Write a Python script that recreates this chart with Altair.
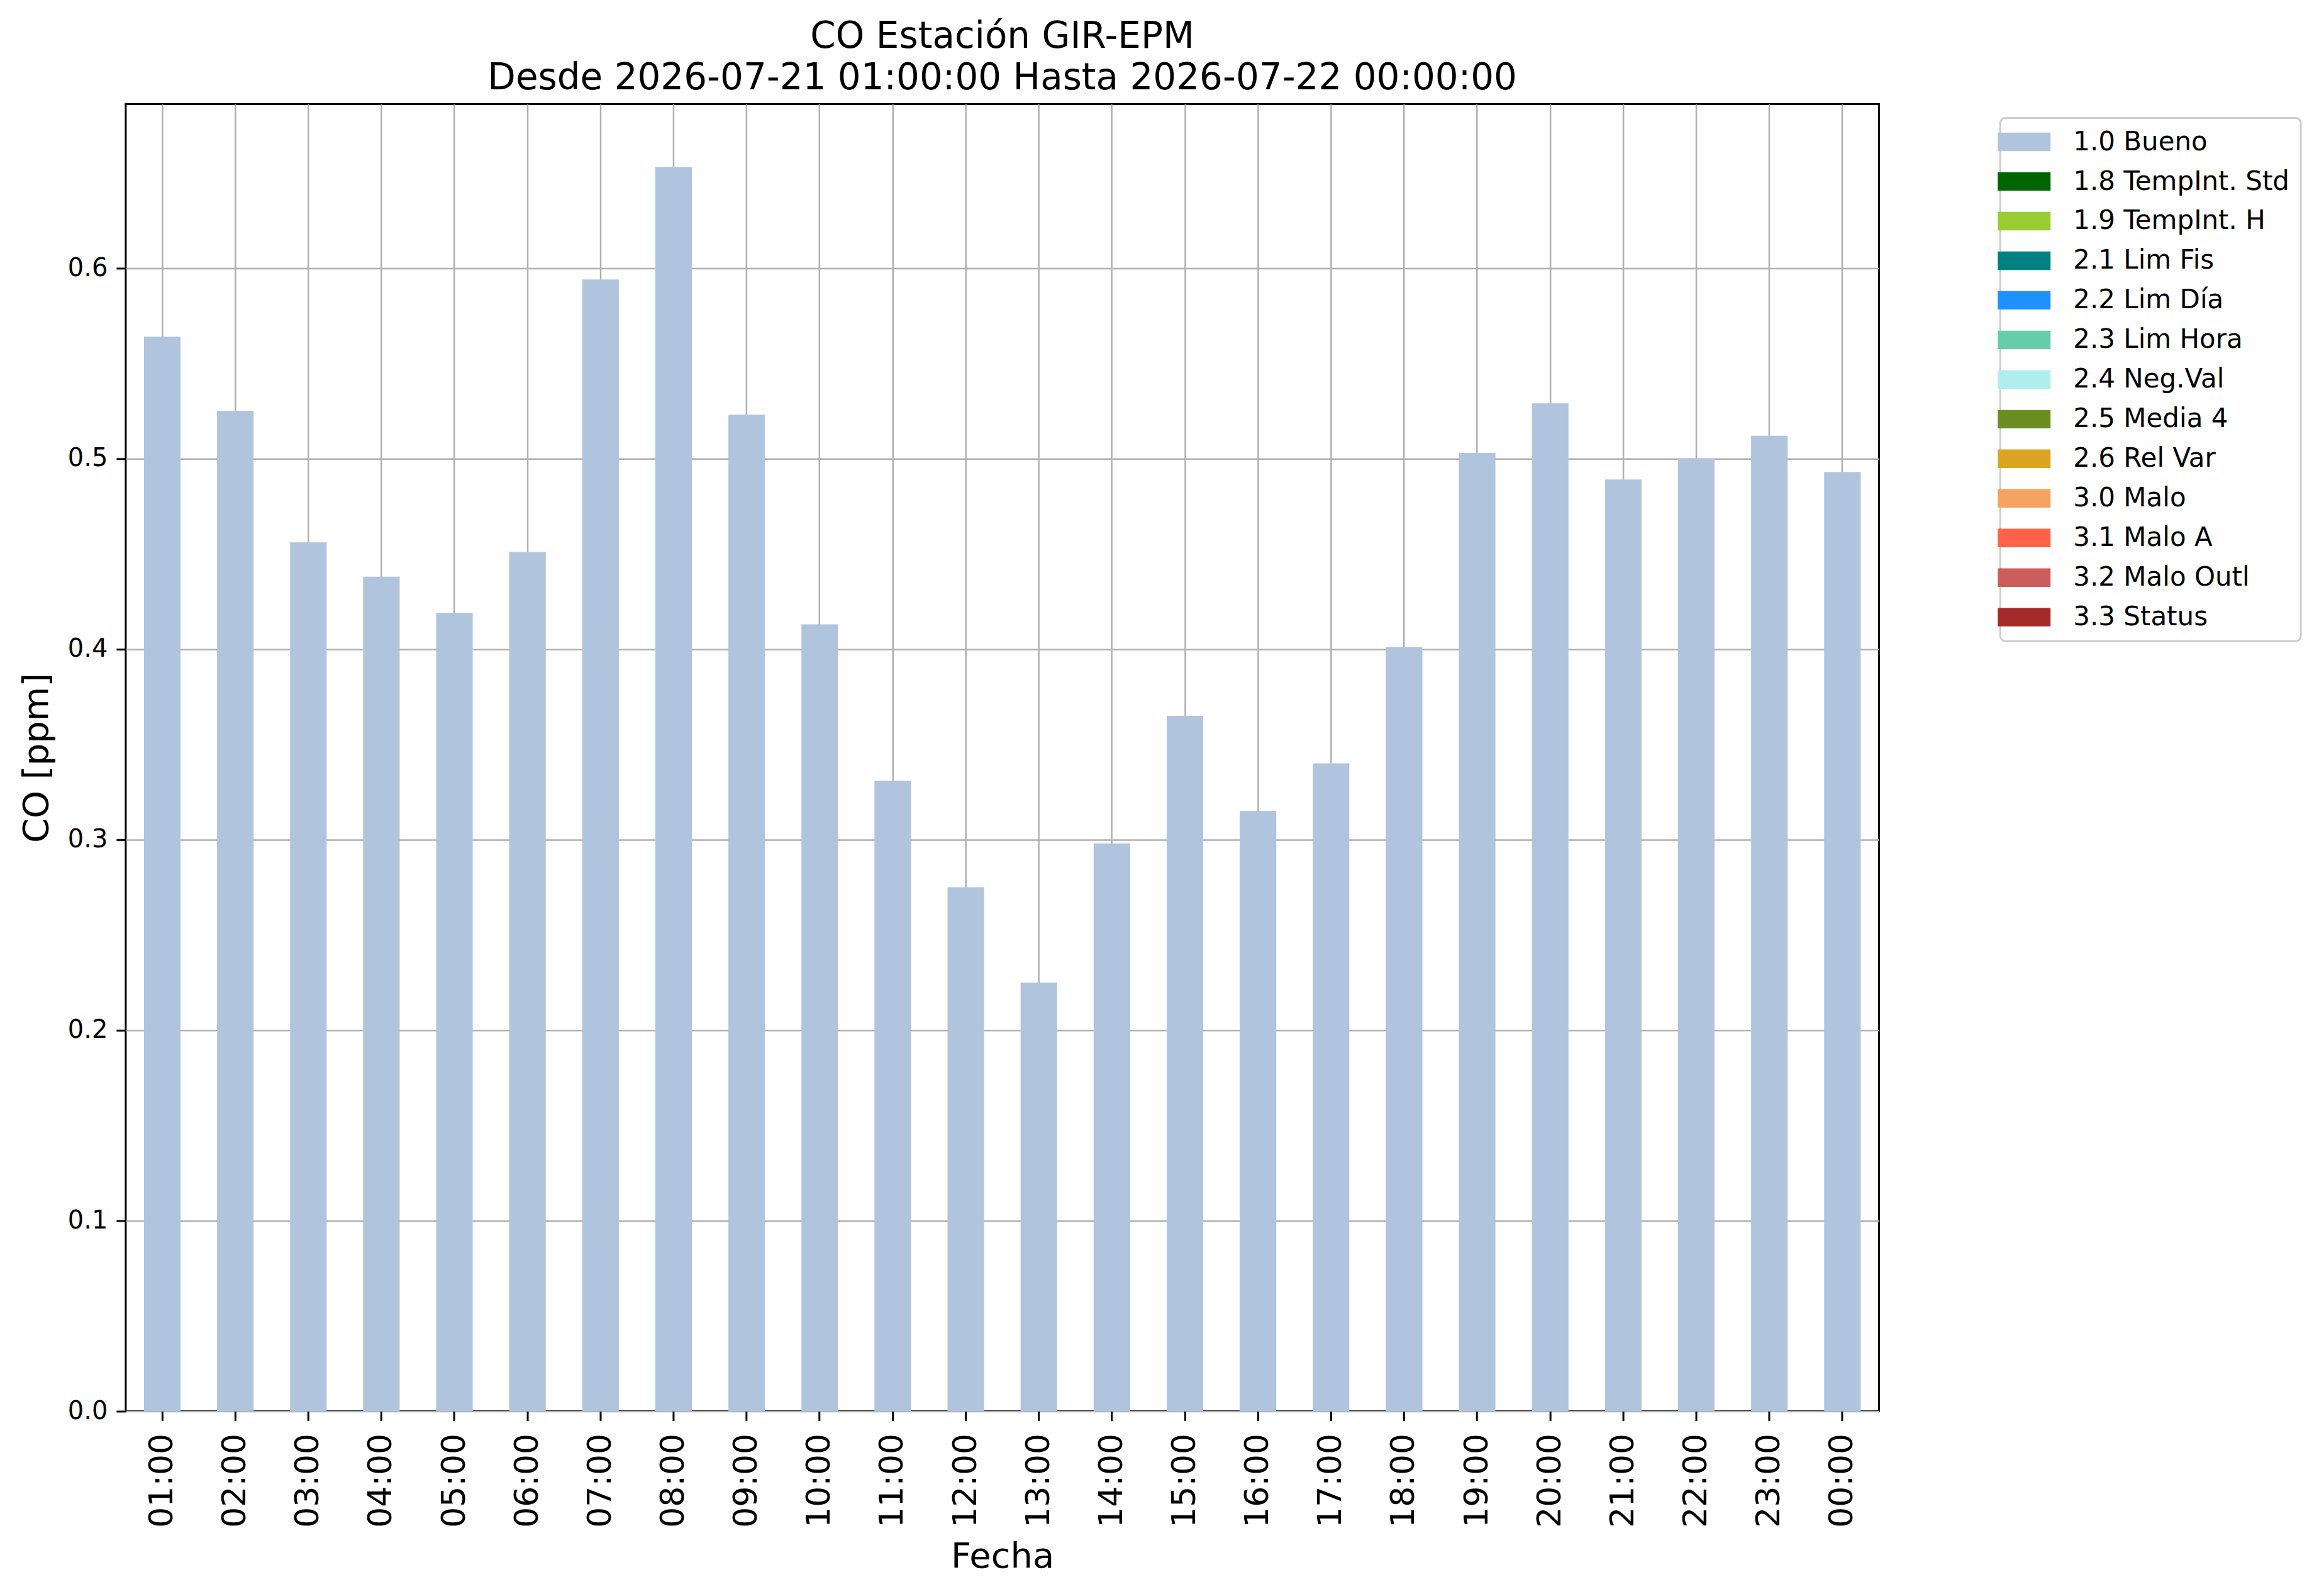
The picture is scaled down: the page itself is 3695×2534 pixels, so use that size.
import altair as alt
import pandas as pd

horas = ["01:00", "02:00", "03:00", "04:00", "05:00", "06:00", "07:00", "08:00",
         "09:00", "10:00", "11:00", "12:00", "13:00", "14:00", "15:00", "16:00",
         "17:00", "18:00", "19:00", "20:00", "21:00", "22:00", "23:00", "00:00"]
co_ppm = [0.564, 0.525, 0.456, 0.438, 0.419, 0.451, 0.594, 0.653,
          0.523, 0.413, 0.331, 0.275, 0.225, 0.298, 0.365, 0.315,
          0.340, 0.401, 0.503, 0.529, 0.489, 0.500, 0.512, 0.493]
flags = ["1.0 Bueno", "1.8 TempInt. Std", "1.9 TempInt. H", "2.1 Lim Fis",
         "2.2 Lim Día", "2.3 Lim Hora", "2.4 Neg.Val", "2.5 Media 4",
         "2.6 Rel Var", "3.0 Malo", "3.1 Malo A", "3.2 Malo Outl", "3.3 Status"]
flag_colors = ["#B0C4DE", "#006400", "#9ACD32", "#008080", "#1E90FF", "#66CDAA",
               "#AFEEEE", "#6B8E23", "#DAA520", "#F4A460", "#FF6347", "#CD5C5C",
               "#A52A2A"]
y_ticks = [0.0, 0.1, 0.2, 0.3, 0.4, 0.5, 0.6]

df = pd.DataFrame({"hora": horas, "co": co_ppm, "flag": ["1.0 Bueno"] * len(horas)})

FONT = "DejaVu Sans"

chart = alt.Chart(df).mark_bar().encode(
    x=alt.X("hora:N", sort=horas, title="Fecha",
            scale=alt.Scale(paddingInner=0.5, paddingOuter=0.25),
            axis=alt.Axis(labelAngle=270, labelFontSize=52, labelPadding=20,
                          titleFontSize=56, titleX=1394.5, titleY=248,
                          titleBaseline="alphabetic", bandPosition=0.5)),
    y=alt.Y("co:Q", title="CO [ppm]",
            scale=alt.Scale(domain=[0, 0.686], nice=False, zero=True),
            axis=alt.Axis(values=y_ticks, format=".1f", labelFontSize=40,
                          labelPadding=14, titleFontSize=56, titleX=-124,
                          titleY=1039.5, titleBaseline="alphabetic", titleAngle=270)),
    color=alt.Color("flag:N", title=None,
                    scale=alt.Scale(domain=flags, range=flag_colors),
                    legend=alt.Legend(orient="none", legendX=2982, legendY=22,
                                      symbolType="M-2.1,-0.735L2.1,-0.735L2.1,0.735L-2.1,0.735Z",
                                      symbolSize=1600, symbolStrokeWidth=0,
                                      labelFontSize=42, labelFont=FONT,
                                      labelOffset=57, rowPadding=21,
                                      padding=17, strokeColor="#cccccc",
                                      fillColor="white", cornerRadius=8,
                                      labelLimit=1000)),
).properties(
    width=2789,
    height=2079,
    title=alt.TitleParams(
        text=["CO Estación GIR-EPM", "Desde 2026-07-21 01:00:00 Hasta 2026-07-22 00:00:00"],
        fontSize=58, font=FONT, fontWeight="normal", lineHeight=66,
        offset=12, anchor="middle", color="black"),
    autosize=alt.AutoSizeParams(type="none"),
    padding={"left": 192, "top": 157, "right": 700, "bottom": 282},
).configure_view(
    stroke="black", strokeWidth=3
).configure_axis(
    labelFont=FONT, titleFont=FONT, labelColor="black", titleColor="black",
    titleFontWeight="normal", domain=False, tickColor="black", tickWidth=3,
    tickSize=15, grid=True, gridColor="#b0b0b0", gridWidth=2.5, zindex=1
).configure_legend(
    strokeWidth=3
)

chart.save("out.html", embed_options={"renderer": "svg", "actions": False})
